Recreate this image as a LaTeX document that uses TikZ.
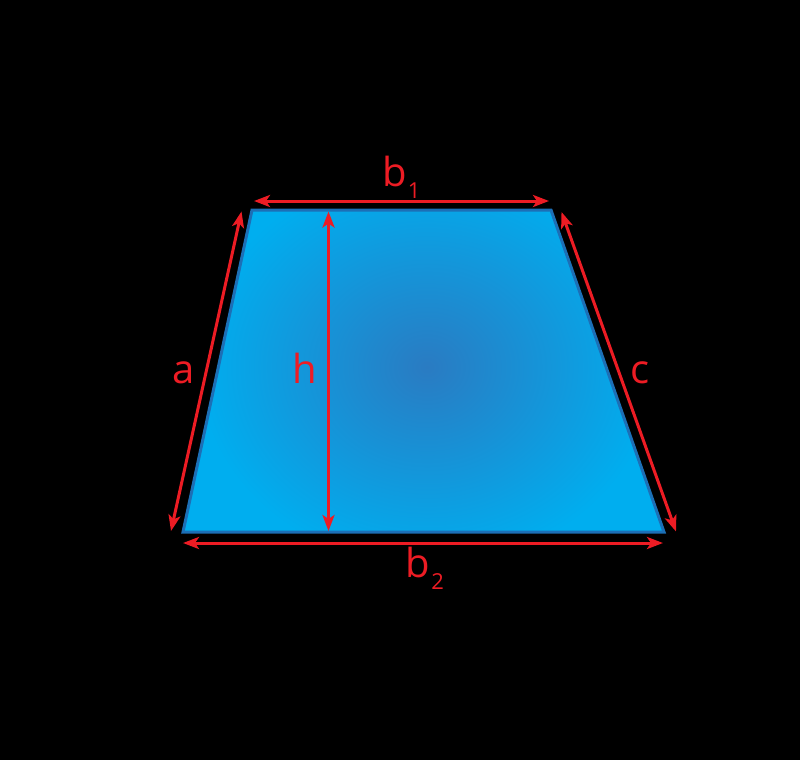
\documentclass[tikz,border=0pt]{standalone}
\usepackage{fontspec}
\setmainfont{Open Sans}
\usetikzlibrary{arrows.meta}
\definecolor{tred}{HTML}{ED1C24}
\definecolor{tcen}{HTML}{2A7BC2}
\definecolor{tout}{HTML}{00AEEF}
\definecolor{tedge}{HTML}{1C6FB6}
\pgfdeclareradialshading{trapglow}{\pgfpoint{0bp}{0bp}}{color(0bp)=(tcen); color(25bp)=(tout); color(50bp)=(tout)}
\begin{document}
\begin{tikzpicture}[x=1pt,y=-1pt,
  >={Stealth[length=16pt,width=12pt,inset=4pt]},
  dimline/.style={draw=tred, line width=3pt, <->},
  lbl/.style={text=tred, font=\fontsize{40pt}{40pt}\selectfont, anchor=base, inner sep=0pt}]
\fill[black] (0,0) rectangle (800,760);
\useasboundingbox (0,0) rectangle (800,760);
% vertices
\coordinate (TL) at (252,210);
\coordinate (TR) at (551,210);
\coordinate (BR) at (664,532);
\coordinate (BL) at (183,532);
% body
\fill[tout] (TL) -- (TR) -- (BR) -- (BL) -- cycle;
\begin{scope}
  \clip (TL) -- (TR) -- (BR) -- (BL) -- cycle;
  \shade[shading=trapglow] (427,367) ellipse [x radius=230, y radius=200];
\end{scope}
\draw[tedge, line width=3pt, line join=miter] (TL) -- (TR) -- (BR) -- (BL) -- cycle;
% dimension end points
\coordinate (b1s) at (254,201);
\coordinate (b1e) at (549,201);
\coordinate (as) at (171,531);
\coordinate (ae) at (241.5,211.5);
\coordinate (cs) at (561.5,212);
\coordinate (ce) at (676,531.5);
\coordinate (b2s) at (183,543);
\coordinate (b2e) at (663,543);
\coordinate (hs) at (328.5,211.5);
\coordinate (he) at (328.5,531);
\draw[dimline] (b1s) -- (b1e);
\draw[dimline] (as) -- (ae);
\draw[dimline] (cs) -- (ce);
\draw[dimline] (b2s) -- (b2e);
\draw[dimline] (hs) -- (he);
% labels
\node[lbl] (la) at (184,383) {a};
\node[lbl] (lh) at (304.5,383) {h};
\node[lbl] (lc) at (640.5,383) {c};
\node[lbl] (lb1) at (401.5,186) {b\hspace{1pt}\raisebox{-12pt}{\fontsize{22pt}{22pt}\selectfont 1}};
\node[lbl] (lb2) at (425,577) {b\hspace{1pt}\raisebox{-12pt}{\fontsize{22pt}{22pt}\selectfont 2}};
\end{tikzpicture}
\end{document}
